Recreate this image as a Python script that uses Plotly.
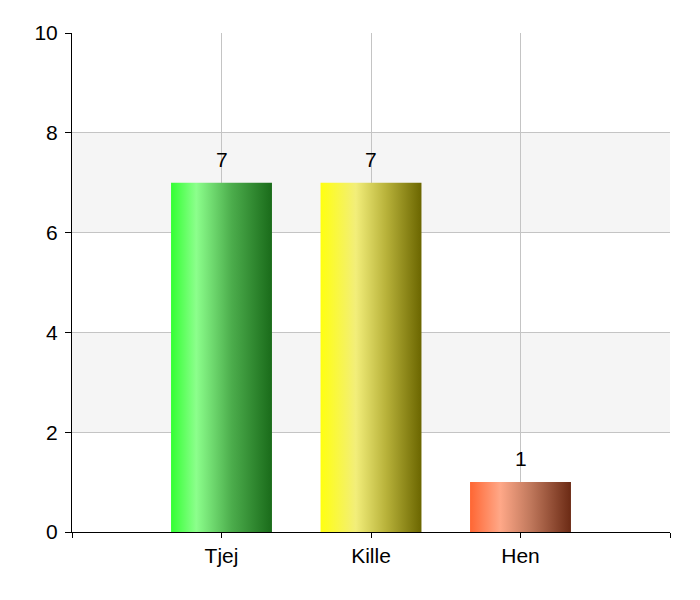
import plotly.graph_objects as go

categories = ["Tjej", "Kille", "Hen"]
values = [7, 7, 1]
gradients = [
    [[0.0, "#33ff33"], [0.25, "#8cff8c"], [0.6, "#4cad4c"], [1.0, "#1a6b1a"]],
    [[0.0, "#ffff10"], [0.35, "#f2ee7a"], [0.65, "#b8b23a"], [1.0, "#6b6600"]],
    [[0.0, "#ff6633"], [0.3, "#ffa888"], [0.6, "#c0785c"], [1.0, "#6b2a14"]],
]
y_ticks = [0, 2, 4, 6, 8, 10]

bar_width = 0.675
FONT = "Liberation Sans, Arial"
fig = go.Figure()

for i, (cat, v, cs) in enumerate(zip(categories, values, gradients)):
    xc = i + 1
    x0, x1 = xc - bar_width / 2, xc + bar_width / 2
    fig.add_trace(go.Scatter(
        x=[x0, x1, x1, x0, x0], y=[0, 0, v, v, 0],
        mode="lines", line=dict(width=0), fill="toself",
        fillgradient=dict(type="horizontal", colorscale=cs),
        hoverinfo="skip", showlegend=False,
    ))
    fig.add_annotation(
        x=xc, y=v, text=str(v), showarrow=False,
        yanchor="bottom", yshift=10,
        font=dict(size=21, color="black", family=FONT),
    )

# alternating bands
for k in range(len(y_ticks) - 1):
    if k % 2 == 1:
        fig.add_shape(type="rect", xref="paper", yref="y", x0=0, x1=1,
                      y0=y_ticks[k], y1=y_ticks[k + 1],
                      fillcolor="#f5f5f5", line=dict(width=0), layer="below")

fig.update_layout(
    width=700, height=600,
    margin=dict(l=64, r=38, t=25, b=76),
    paper_bgcolor="white", plot_bgcolor="white",
    font=dict(family=FONT, size=21, color="black"),
    showlegend=False,
)
fig.update_xaxes(
    range=[0, len(categories) + 1],
    tickvals=list(range(len(categories) + 2)),
    ticktext=[""] + categories + [""],
    showgrid=True, gridcolor="#c4c4c4", gridwidth=1,
    showline=True, linecolor="black", linewidth=1,
    ticks="outside", ticklen=5, tickcolor="black",
    zeroline=False, fixedrange=True,
)
fig.update_yaxes(
    range=[0, 10], tickvals=y_ticks,
    showgrid=True, gridcolor="#c4c4c4", gridwidth=1,
    showline=True, linecolor="black", linewidth=1,
    ticks="outside", ticklen=6, tickcolor="black",
    ticklabelstandoff=3,
    zeroline=False, fixedrange=True,
)

fig.write_html("out.html")
